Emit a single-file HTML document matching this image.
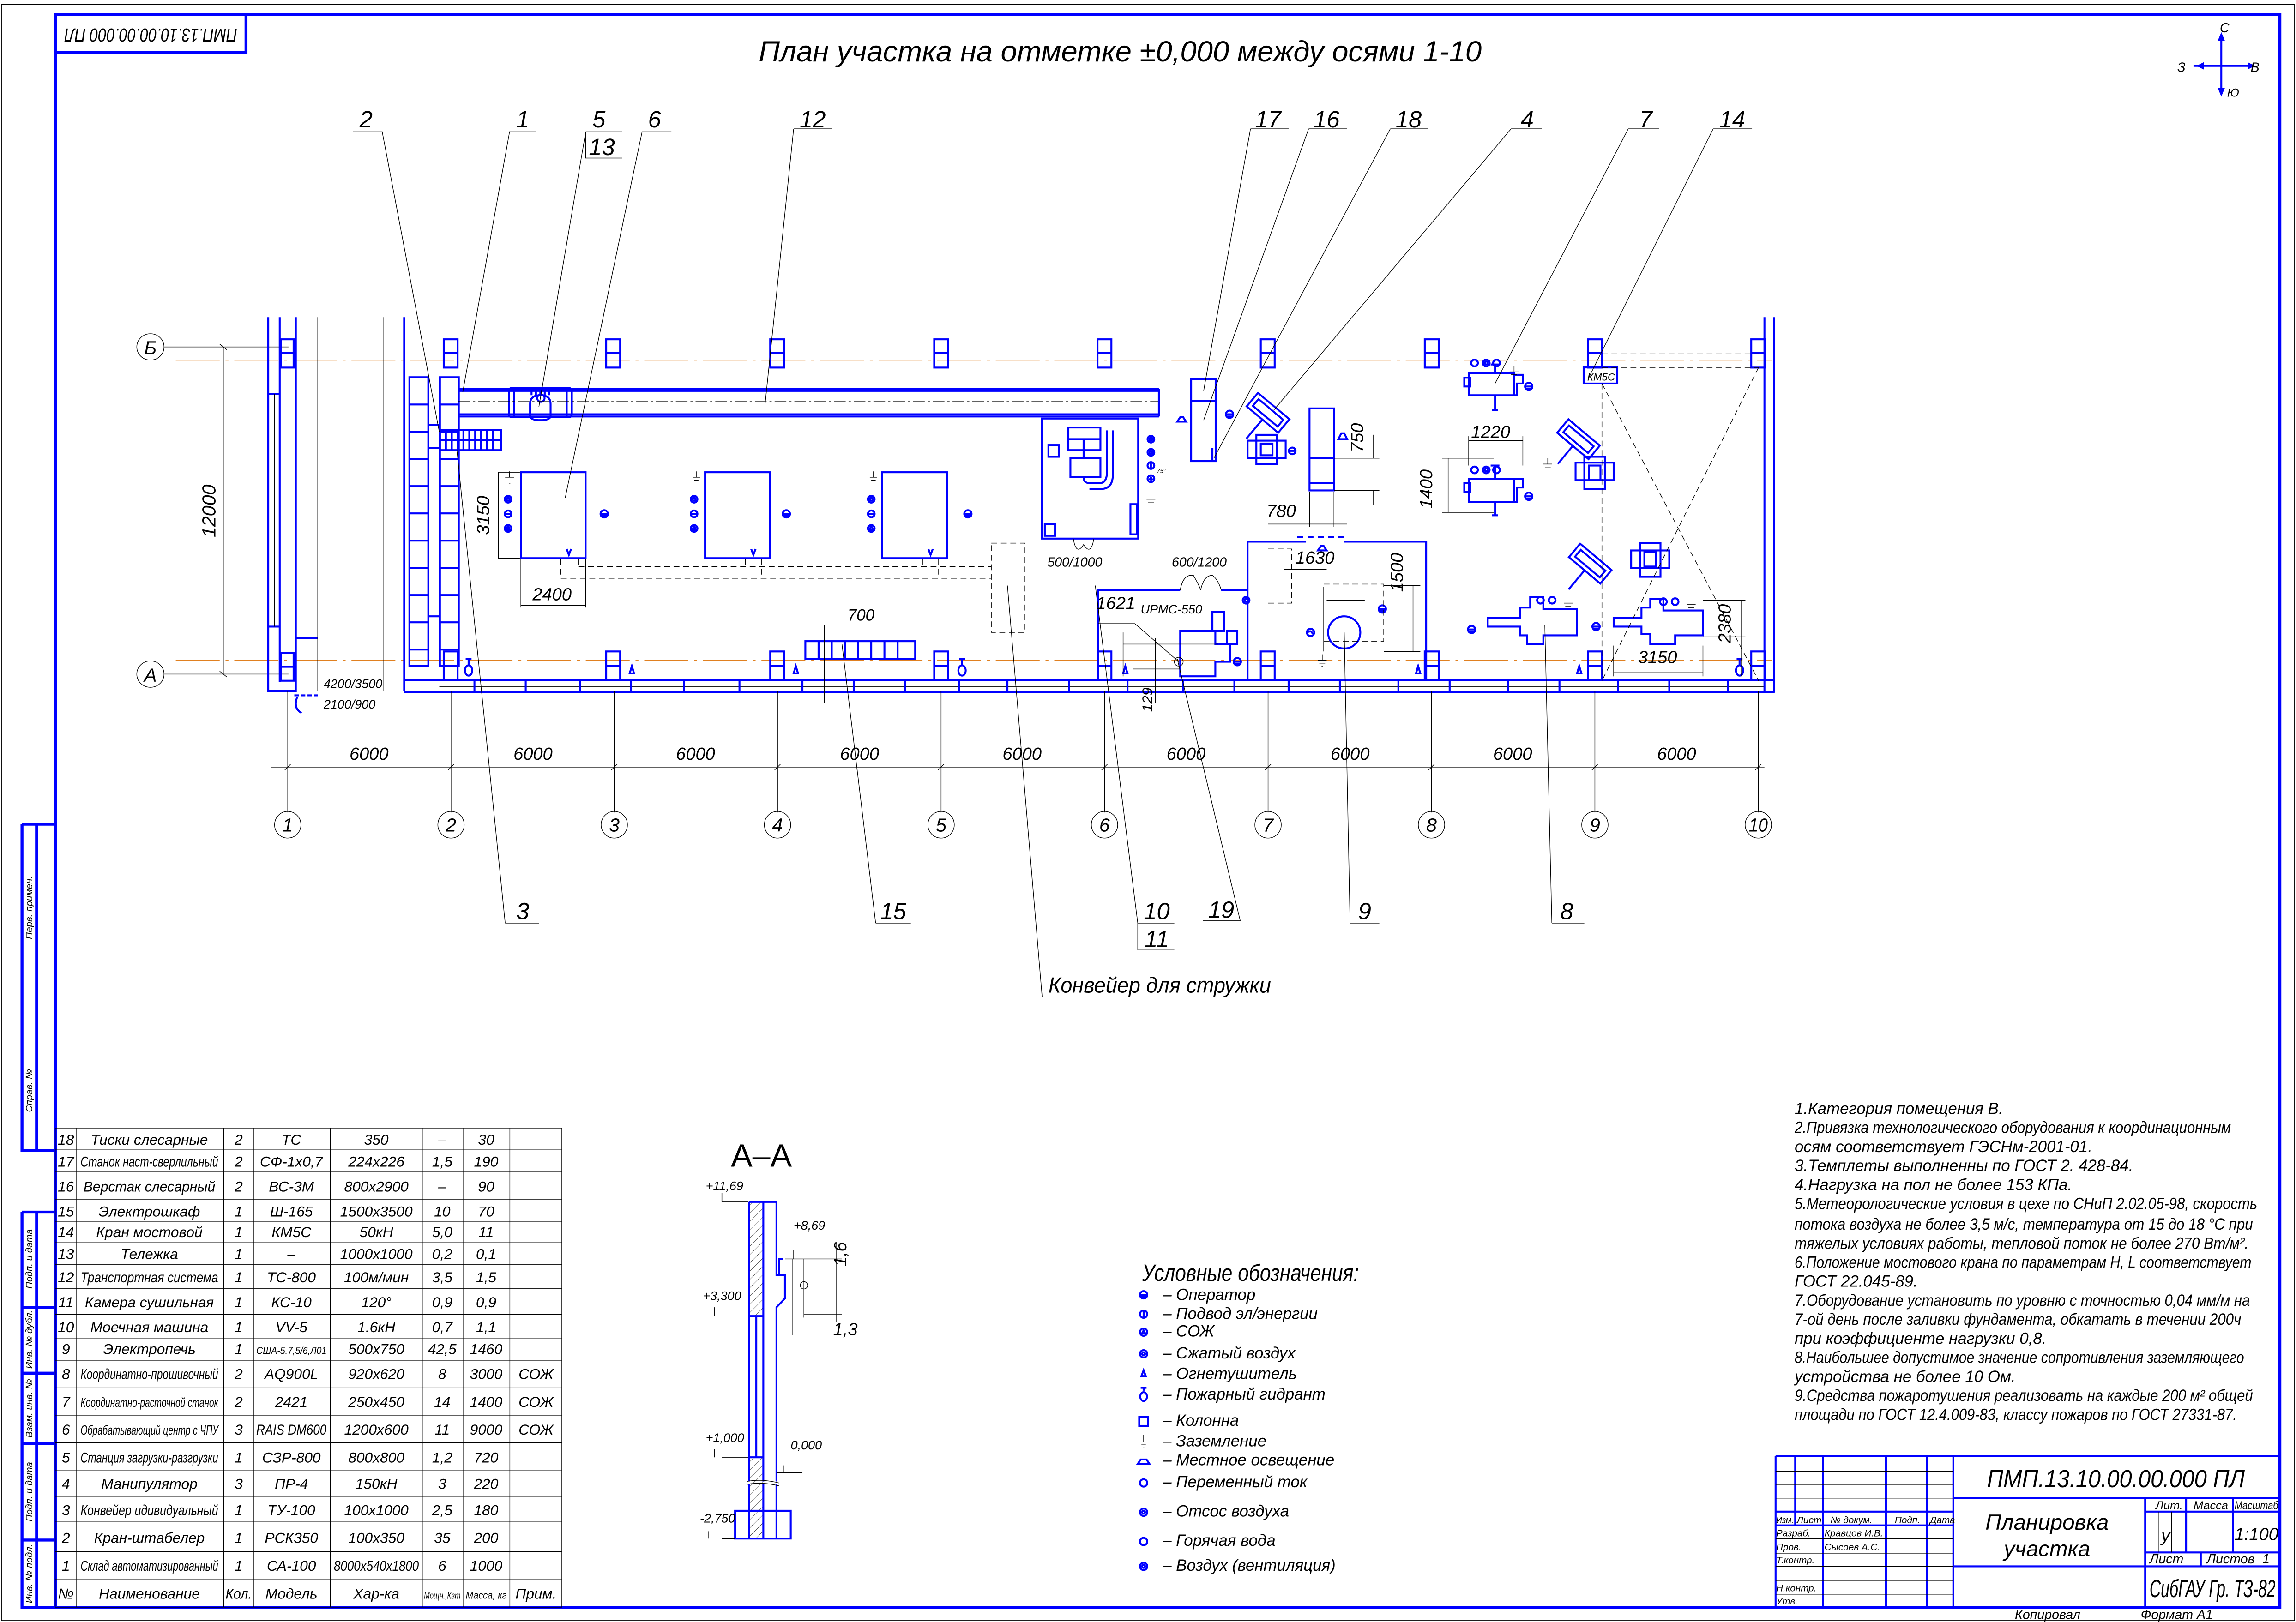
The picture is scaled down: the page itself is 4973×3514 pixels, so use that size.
<!DOCTYPE html>
<html><head><meta charset="utf-8">
<style>
html,body{margin:0;padding:0;background:#fff;}
svg{display:block;}
text{font-family:"Liberation Sans Narrow","Liberation Sans",sans-serif;font-style:italic;fill:#000;}
.b{stroke:#0000ff;stroke-width:1.3;fill:none;}
.bt{stroke:#0000ff;stroke-width:2;fill:none;}
.bf{fill:#0000ff;stroke:none;}
.k{stroke:#000;stroke-width:0.45;fill:none;}
.kd{stroke:#000;stroke-width:0.45;fill:none;stroke-dasharray:4 2.5;}
.ks{stroke:#000;stroke-width:0.4;fill:none;stroke-dasharray:8 2 1.5 2;}
.o{stroke:#e08020;stroke-width:0.7;fill:none;stroke-dasharray:30 4 2 4;}
.t{font-size:11px;}
.n{font-size:16px;}
</style></head>
<body>
<svg width="4973" height="3514" viewBox="0 0 1568 1108" xmlns="http://www.w3.org/2000/svg">
<rect x="0" y="0" width="1568" height="1108" fill="#fff"/>
<rect x="1" y="3" width="1566" height="1104" class="k"/>
<!-- frame -->
<rect x="38" y="10" width="1519" height="1088" class="bt"/>
<rect x="38" y="10" width="130" height="26" class="bt"/>
<text x="103" y="23" font-size="13" text-anchor="middle" transform="rotate(180 103 23)" dominant-baseline="middle" textLength="118" lengthAdjust="spacingAndGlyphs">ПМП.13.10.00.00.000 ПЛ</text>
<!-- left strip -->
<path class="bt" d="M15,563 V786 H38 M25,563 V786 M15,563 H38"/>
<path class="bt" d="M15,828 V1098 H38 M25,828 V1098 M15,828 H38 M15,893 H38 M15,938 H38 M15,986 H38 M15,1052 H38"/>
<g font-size="6.5" text-anchor="middle">
<text x="22" y="620" transform="rotate(-90 22 620)">Перв. примен.</text>
<text x="22" y="745" transform="rotate(-90 22 745)">Справ. №</text>
<text x="22" y="860" transform="rotate(-90 22 860)">Подп. и дата</text>
<text x="22" y="915" transform="rotate(-90 22 915)">Инв. № дубл.</text>
<text x="22" y="962" transform="rotate(-90 22 962)">Взам. инв. №</text>
<text x="22" y="1019" transform="rotate(-90 22 1019)">Подп. и дата</text>
<text x="22" y="1075" transform="rotate(-90 22 1075)">Инв. № подл.</text>
</g>

<!-- title -->
<text x="765" y="42" font-size="20" text-anchor="middle">План участка на отметке ±0,000 между осями 1-10</text>
<!-- compass -->
<path class="b" d="M1517,26 V62 M1498,45 H1536"/>
<path class="bf" d="M1517,22 l-2.5,6 h5z M1517,66 l-2.5,-6 h5z M1500,45 l5,-2.5 v5z M1540,45 l-5,-2.5 v5z"/>
<text x="1516" y="22" font-size="9">С</text><text x="1521" y="66" font-size="8">Ю</text>
<text x="1487" y="49" font-size="9">З</text><text x="1537" y="49" font-size="9">В</text>

<!-- axis lines -->
<line x1="120" y1="246" x2="1210" y2="246" class="o"/>
<line x1="120" y1="451" x2="1210" y2="451" class="o"/>
<!-- left dims -->
<ellipse cx="102.7" cy="237" rx="9.3" ry="9" class="k"/><text x="102.7" y="242" font-size="13" text-anchor="middle">Б</text>
<ellipse cx="102.7" cy="460.5" rx="9.3" ry="9" class="k"/><text x="102.7" y="465.5" font-size="13" text-anchor="middle">А</text>
<path class="k" d="M112,237 H197 M112,460.5 H197 M152.5,237 V460.5 M150,235 l5,4 M150,458.5 l5,4"/>
<text x="147" y="349" font-size="13" text-anchor="middle" transform="rotate(-90 147 349)">12000</text>

<!-- building walls -->
<path class="b" d="M183.2,216.7 V472 H202 V216.7 M191,216.7 V466 M183.2,269.2 H191 M183.2,428 H191 M202,435.8 H217"/>
<path class="k" d="M187.5,269.2 V428 M217,216.7 V472 M261.6,216.7 V472"/>
<path class="b" d="M276,216.7 V472"/>
<path class="b" d="M276,464.7 H1212 M276,472.7 H1212"/>
<path class="k" d="M300,468.9 H1205"/>
<path class="b" d="M1205,216.7 V472.7 M1211.7,216.7 V472.7"/>
<g class="b">
<path d="M324,464.7 V472.7 M359,464.7 V472.7 M396,464.7 V472.7 M431,464.7 V472.7 M467,464.7 V472.7 M505,464.7 V472.7 M548,464.7 V472.7 M583,464.7 V472.7 M618,464.7 V472.7 M655,464.7 V472.7 M688,464.7 V472.7 M730,464.7 V472.7 M770,464.7 V472.7 M808,464.7 V472.7 M843,464.7 V472.7 M880,464.7 V472.7 M915,464.7 V472.7 M955,464.7 V472.7 M990,464.7 V472.7 M1030,464.7 V472.7 M1065,464.7 V472.7 M1105,464.7 V472.7 M1140,464.7 V472.7 M1180,464.7 V472.7"/>
</g>
<path class="b" d="M201,475 H217" stroke-dasharray="3 1.5"/>
<path class="b" d="M203,476 Q200,484 206,487"/>
<text x="221" y="470" font-size="8.5">4200/3500</text>
<text x="221" y="484" font-size="8.5">2100/900</text>

<!-- columns -->
<g class="b">
<rect x="191.7" y="231.8" width="8.8" height="19.3"/><path d="M191.7,241 H200.5"/>
<rect x="191.7" y="446" width="8.8" height="19"/><path d="M191.7,455.5 H200.5"/>
<rect x="303" y="231.8" width="9.5" height="19.3"/><path d="M303,241 H312.5"/>
<rect x="414" y="231.8" width="9.5" height="19.3"/><path d="M414,241 H423.5"/>
<rect x="526" y="231.8" width="9.5" height="19.3"/><path d="M526,241 H535.5"/>
<rect x="638" y="231.8" width="9.5" height="19.3"/><path d="M638,241 H647.5"/>
<rect x="749.5" y="231.8" width="9.5" height="19.3"/><path d="M749.5,241 H759"/>
<rect x="861" y="231.8" width="9.5" height="19.3"/><path d="M861,241 H870.5"/>
<rect x="973" y="231.8" width="9.5" height="19.3"/><path d="M973,241 H982.5"/>
<rect x="1084.5" y="231.8" width="9.5" height="19.3"/><path d="M1084.5,241 H1094"/>
<rect x="1196" y="231.8" width="9.5" height="19.3"/><path d="M1196,241 H1205.5"/>
<rect x="303" y="445" width="9.5" height="19.7"/><path d="M303,455 H312.5"/>
<rect x="414" y="445" width="9.5" height="19.7"/><path d="M414,455 H423.5"/>
<rect x="526" y="445" width="9.5" height="19.7"/><path d="M526,455 H535.5"/>
<rect x="638" y="445" width="9.5" height="19.7"/><path d="M638,455 H647.5"/>
<rect x="749.5" y="445" width="9.5" height="19.7"/><path d="M749.5,455 H759"/>
<rect x="861" y="445" width="9.5" height="19.7"/><path d="M861,455 H870.5"/>
<rect x="973" y="445" width="9.5" height="19.7"/><path d="M973,455 H982.5"/>
<rect x="1084.5" y="445" width="9.5" height="19.7"/><path d="M1084.5,455 H1094"/>
<rect x="1196" y="445" width="9.5" height="19.7"/><path d="M1196,455 H1205.5"/>
</g>
<g class="b">
<path d="M318,450 H322 M320,450 V454"/><ellipse cx="320" cy="458" rx="2.5" ry="3.5"/>
<path d="M655,450 H659 M657,450 V454"/><ellipse cx="657" cy="458" rx="2.5" ry="3.5"/>
<path d="M1186,450 H1190 M1188,450 V454"/><ellipse cx="1188" cy="458" rx="2.5" ry="3.5"/>
<path d="M430,460 l1.5,-5 l1.5,5z M542,460 l1.5,-5 l1.5,5z M767,460 l1.5,-5 l1.5,5z M967,460 l1.5,-5 l1.5,5z M1077,460 l1.5,-5 l1.5,5z"/>
</g>

<!-- stacker 1,2 -->
<g class="b">
<rect x="279.6" y="257.7" width="12.9" height="197"/>
<rect x="300.4" y="257.7" width="12.9" height="197"/>
<path d="M279.6,276.3 H292.5 M279.6,294.9 H292.5 M279.6,313.5 H292.5 M279.6,332.1 H292.5 M279.6,350.7 H292.5 M279.6,369.3 H292.5 M279.6,387.9 H292.5 M279.6,406.5 H292.5 M279.6,425.1 H292.5 M279.6,443.7 H292.5"/>
<path d="M300.4,276.3 H313.3 M300.4,294.9 H313.3 M300.4,313.5 H313.3 M300.4,332.1 H313.3 M300.4,350.7 H313.3 M300.4,369.3 H313.3 M300.4,387.9 H313.3 M300.4,406.5 H313.3 M300.4,425.1 H313.3 M300.4,443.7 H313.3"/>
<path d="M292.5,290.4 H300.4 M292.5,306 H300.4 M292.5,421 H300.4"/>
<rect x="300.4" y="293.7" width="41.9" height="13.8"/>
<path d="M304.5,293.7 V307.5 M308.5,293.7 V307.5 M312.5,293.7 V307.5 M316.5,293.7 V307.5 M320.5,293.7 V307.5 M324.5,293.7 V307.5 M328.5,293.7 V307.5 M332.5,293.7 V307.5 M336.5,293.7 V307.5 M300.4,300.5 H342.3"/>
</g>
<!-- conveyor 12 -->
<g class="b">
<path d="M313.3,265.5 H791.4 M313.3,267 H791.4 M313.3,283 H791.4 M313.3,284.5 H791.4 M791.4,265.5 V284.5"/>
<rect x="347.5" y="265" width="43" height="20" rx="2"/>
<path d="M351,265 V285 M387,265 V285"/>
<path d="M362,276 Q362,270 369,270 Q376,270 376,276 V284 Q376,287 369,287 Q362,287 362,284 Z"/>
<circle cx="369.4" cy="272" r="2.5"/>
<path d="M363,265.5 V270 M366,265.5 V270 M369,265.5 V270 M372,265.5 V270 M375,265.5 V270"/>
</g>
<line x1="313" y1="274" x2="791" y2="274" class="ks"/>

<!-- machines 6 -->
<g class="b">
<rect x="355.7" y="322.6" width="44.2" height="58.7"/>
<rect x="481.5" y="322.6" width="44.2" height="58.7"/>
<rect x="602.5" y="322.6" width="44.2" height="58.7"/>
<path d="M387,375 l1.5,4 l1.5,-4 M513,375 l1.5,4 l1.5,-4 M634,375 l1.5,4 l1.5,-4"/>
<circle cx="347" cy="341" r="2.3"/><circle cx="347" cy="341" r="1"/>
<circle cx="347" cy="351" r="2.3"/><path d="M344.7,351 H349.3"/>
<circle cx="347" cy="361" r="2.3"/><path d="M345.5,362 l1.5,-2.5 l1.5,2.5z"/>
<circle cx="474" cy="341" r="2.3"/><circle cx="474" cy="341" r="1"/>
<circle cx="474" cy="351" r="2.3"/><path d="M471.7,351 H476.3"/>
<circle cx="474" cy="361" r="2.3"/><path d="M472.5,362 l1.5,-2.5 l1.5,2.5z"/>
<circle cx="595" cy="341" r="2.3"/><circle cx="595" cy="341" r="1"/>
<circle cx="595" cy="351" r="2.3"/><path d="M592.7,351 H597.3"/>
<circle cx="595" cy="361" r="2.3"/><path d="M593.5,362 l1.5,-2.5 l1.5,2.5z"/>
<circle cx="412.6" cy="351" r="2.5"/><path d="M410.5,351 H414.7 M410.5,352.5 H414.7"/>
<circle cx="537" cy="351" r="2.5"/><path d="M535,351 H539 M535,352.5 H539"/>
<circle cx="661" cy="351" r="2.5"/><path d="M659,351 H663 M659,352.5 H663"/>
</g>
<path class="k" d="M345,326 H351 M346,328.5 H350 M347.5,330.5 H348.5 M348,322 V326 M473,326 H478 M474,328 H477 M475.5,322 V326 M594,326 H599 M595,328 H598 M596.5,322 V326"/>
<path class="k" d="M340,322.6 H355 M340,381.3 H355 M340.3,322.6 V381.3 M355.7,382 V415 M399.9,382 V415 M355.7,413.5 H399.9"/>
<text x="334" y="352" font-size="12" text-anchor="middle" transform="rotate(-90 334 352)">3150</text>
<text x="377" y="410" font-size="12" text-anchor="middle">2400</text>
<path class="kd" d="M383,382 V395 M395,382 V387 M383,395 H677 M395,387 H677 M509,382 V387 M520,382 V395 M630,382 V387 M641,382 V395"/>
<rect x="677" y="371" width="23" height="61" class="kd"/>
<g class="b">
<rect x="550" y="438" width="75" height="12"/>
<path d="M559,438 V450 M568,438 V450 M577,438 V450 M586,438 V450 M595,438 V450 M604,438 V450 M613,438 V450"/>
</g>
<path class="k" d="M563,427 H588 M563,427 V480"/>
<text x="588" y="424" font-size="11" text-anchor="middle">700</text>

<!-- wash machine 10 -->
<g class="b">
<rect x="711.4" y="285.9" width="65.9" height="82"/>
<rect x="729.6" y="292" width="21.9" height="15.5"/>
<path d="M729.6,300 H751.5 M740,300 V307.5"/>
<rect x="731" y="313" width="20.5" height="13"/>
<path d="M740,307.5 V313 M756,294 V322 Q756,330 751,330 H744 Q740,330 740,326 M760,294 V324 Q760,334 752,334 H744"/>
<rect x="716" y="304" width="7" height="8"/>
<rect x="772" y="344.4" width="4.5" height="20.6"/>
<rect x="713.5" y="358" width="7" height="8"/>
<circle cx="786" cy="300" r="2.3"/><circle cx="786" cy="300" r="1"/>
<circle cx="786" cy="309" r="2.3"/><circle cx="786" cy="309" r="1"/>
<circle cx="786" cy="318" r="2.3"/><path d="M786,316 V320"/>
<circle cx="786" cy="327" r="2.3"/><path d="M785,328 l1,-2 l1,2"/>
</g>
<path class="k" d="M786,336 V341 M783,341 H789 M784,343 H788 M785.5,345 H786.5"/>
<text x="790" y="323" font-size="4">75°</text>
<path class="k" d="M733,368 Q735,380 740,372 Q745,380 747,368"/>
<text x="734" y="387" font-size="9" text-anchor="middle">500/1000</text>
<g class="b">
<rect x="813.5" y="259" width="16.7" height="56"/>
<path d="M813.5,274 H830.2 M828,306 V315"/>
<path d="M804,288 l2,-3 h2 l2,3 z M804,288 H810"/>
<circle cx="839.7" cy="283" r="2.5"/><path d="M837.5,283 H842 M837.5,284.5 H842"/>
</g>
<g class="b" transform="rotate(40 866 282)">
<rect x="852" y="276" width="28" height="12"/><rect x="855" y="279" width="22" height="6"/>
<path d="M866,288 V305"/>
</g>
<g class="b">
<rect x="852" y="301" width="26" height="12"/><rect x="858" y="297" width="14" height="20"/><rect x="861" y="303" width="8" height="8"/>
<circle cx="882.5" cy="308" r="2.3"/><path d="M880.5,308 H884.5"/>
<rect x="894.3" y="279" width="16.7" height="56"/>
<path d="M894.3,313 H911 M894.3,330 H911"/>
<path d="M914,300 l2,-4 h2 l2,4z M914,300 H920"/>
</g>
<path class="k" d="M911,313 H942 M911,335 H942 M938,297 V313 M938,335 V345 M894.3,336 V360 M911,336 V360 M866,358 H920"/>
<text x="931" y="299" font-size="12" text-anchor="middle" transform="rotate(-90 931 299)">750</text>
<text x="875" y="353" font-size="12" text-anchor="middle">780</text>

<!-- room 7 -->
<g class="b">
<path d="M852,465 V370 H892 M918,370 H974 V465"/>
<path d="M886,367 H890 M893,367 H897 M900,367 H904 M907,367 H911 M914,367 H918"/>
<circle cx="918" cy="432" r="11"/>
<path d="M900,376 l2,-3 h2 l2,3 z M900,376 H906"/>
<circle cx="944" cy="416" r="2.5"/><path d="M942,416 H946 M942,417.5 H946"/>
<circle cx="895" cy="432" r="2.5"/><path d="M893.5,432 Q895,430 896.5,433"/>
</g>
<path class="kd" d="M866,375 H882 V412 H866"/>
<path class="kd" d="M904,399 H945 V438 M904,438 H945"/>
<path class="k" d="M904,401 V445 M945,400 H970 M945,445 H970 M965,400 V445 M906,410 H932 M877,389 H906"/>
<path class="k" d="M900,451 H906 M901,453 H905 M902.5,455 H903.5 M903,447 V451"/>
<text x="898" y="385" font-size="12" text-anchor="middle">1630</text>
<text x="958" y="391" font-size="12" text-anchor="middle" transform="rotate(-90 958 391)">1500</text>
<g class="b">
<path d="M750,465 V403 H806 M834,403 H852"/>
<rect x="828" y="418" width="8" height="13"/>
<rect x="838" y="431" width="7" height="9"/>
<path d="M806,431 H830 V440 H840 V452 H830 V462 H806 Z"/>
<circle cx="845" cy="452" r="2.5"/><path d="M843,452 H847 M843,453.5 H847"/>
<circle cx="851" cy="410" r="2.3"/><circle cx="851" cy="410" r="1"/>
</g>
<path class="k" d="M806,403 Q808,392 815,393 Q819,400 820,403 M820,403 Q822,393 828,393 Q832,396 834,403"/>
<text x="819" y="387" font-size="9" text-anchor="middle">600/1200</text>
<text x="762" y="416" font-size="12" text-anchor="middle">1621</text>
<text x="800" y="419" font-size="8.5" text-anchor="middle">UPMC-550</text>
<path class="k" d="M750,426 H775 L805,452 M767,440 H832 M767,432 V462 M789,436 V480 M774,457 H806"/>
<circle cx="805" cy="452" r="3" class="k"/>
<text x="787" y="478" font-size="10" text-anchor="middle" transform="rotate(-90 787 478)">129</text>

<!-- CNC 7 right -->
<g class="b">
<rect x="1003" y="255" width="31" height="15"/><rect x="1000" y="258" width="4" height="6"/>
<path d="M1034,256 H1040 V262 H1036 V270 H1034 M1021,270 V280 M1019,280 H1023 M1021,249 V255 M1018,249 H1024"/>
<circle cx="1007" cy="248" r="2.3"/><circle cx="1015" cy="248" r="2.3"/><circle cx="1015" cy="248" r="1"/><circle cx="1022" cy="248" r="2.3"/>
<circle cx="1044" cy="264" r="2.5"/><path d="M1042,264 H1046 M1042,265.5 H1046"/>
<rect x="1003" y="327" width="31" height="16"/><rect x="1000" y="330" width="4" height="6"/>
<path d="M1034,327 H1040 V333 H1036 V343 H1034 M1021,343 V352 M1019,352 H1023 M1021,318 V327 M1018,318 H1024"/>
<circle cx="1007" cy="321" r="2.3"/><circle cx="1015" cy="321" r="2.3"/><circle cx="1015" cy="321" r="1"/><circle cx="1022" cy="321" r="2.3"/>
<circle cx="1044" cy="339" r="2.5"/><path d="M1042,339 H1046 M1042,340.5 H1046"/>
</g>
<path class="k" d="M1031,254 H1037 M1032,256 H1036 M1034,250 V254 M1054,317 H1060 M1055,319 H1059 M1057,313 V317"/>
<path class="k" d="M1003,301 H1040 M1003,298 V318 M1040,298 V318 M985,313 H1020 M985,350 H1020 M989,313 V350"/>
<text x="1018" y="299" font-size="12" text-anchor="middle">1220</text>
<text x="978" y="334" font-size="12" text-anchor="middle" transform="rotate(-90 978 334)">1400</text>
<g class="b" transform="rotate(40 1078 300)">
<rect x="1064" y="294" width="28" height="12"/><rect x="1067" y="297" width="22" height="6"/>
<path d="M1078,306 V322"/>
</g>
<g class="b">
<rect x="1076" y="316" width="26" height="12"/><rect x="1082" y="312" width="14" height="22"/><rect x="1085" y="318" width="8" height="10"/>
</g>
<g class="b" transform="rotate(40 1086 385)">
<rect x="1072" y="379" width="28" height="12"/><rect x="1075" y="382" width="22" height="6"/>
<path d="M1086,391 V408"/>
</g>
<g class="b">
<rect x="1114" y="376" width="26" height="12"/><rect x="1120" y="371" width="14" height="23"/><rect x="1123" y="377" width="8" height="10"/>
</g>
<g class="b">
<path d="M1016,422 H1038 V415 H1045 V408 H1054 V416 H1077 V434 H1054 V440 H1043 V434 H1038 V428 H1016 Z"/>
<path d="M1102,422 H1121 V415 H1127 V409 H1136 V417 H1163 V434 H1144 V440 H1127 V433 H1121 V428 H1102 Z"/>
<circle cx="1052" cy="410" r="2.3"/><circle cx="1060" cy="410" r="2.3"/>
<circle cx="1136" cy="411" r="2.3"/><circle cx="1144" cy="411" r="2.3"/>
<circle cx="1005" cy="430" r="2.5"/><path d="M1003,430 H1007 M1003,431.5 H1007"/>
<circle cx="1090" cy="428" r="2.5"/><path d="M1088,428 H1092 M1088,429.5 H1092"/>
</g>
<path class="k" d="M1068,412 H1074 M1069,414 H1073 M1152,413 H1158 M1153,415 H1157"/>
<path class="k" d="M1163,435 H1192 M1163,410 H1192 M1189,410 V462 M1102,441 V462 M1163,441 V462 M1102,459 H1163"/>
<text x="1182" y="426" font-size="12" text-anchor="middle" transform="rotate(-90 1182 426)">2380</text>
<text x="1132" y="453" font-size="12" text-anchor="middle">3150</text>
<rect x="1081.5" y="251" width="23" height="11" class="b"/>
<text x="1084" y="260" font-size="7" fill="#0000ff">КМ5С</text>
<path class="kd" d="M1094,262 V465 M1094,241.7 H1201 M1094,251 H1201 M1094,262 L1201,465 M1201,251 L1094,465"/>

<!-- dimension row -->
<path class="k" d="M196.5,472 V555 M308,472 V555 M419.5,472 V555 M531,472 V555 M642.7,472 V555 M754.3,472 V555 M866,472 V555 M977.6,472 V555 M1089.2,472 V555 M1200.8,472 V555"/>
<path class="k" d="M185,524 H1205"/>
<path class="k" d="M194.5,526 l4,-4 M306,526 l4,-4 M417.5,526 l4,-4 M529,526 l4,-4 M640.7,526 l4,-4 M752.3,526 l4,-4 M864,526 l4,-4 M975.6,526 l4,-4 M1087.2,526 l4,-4 M1198.8,526 l4,-4"/>
<g font-size="12" text-anchor="middle">
<text x="252" y="519">6000</text><text x="364" y="519">6000</text><text x="475" y="519">6000</text><text x="587" y="519">6000</text><text x="698" y="519">6000</text><text x="810" y="519">6000</text><text x="922" y="519">6000</text><text x="1033" y="519">6000</text><text x="1145" y="519">6000</text>
</g>
<g class="k">
<ellipse cx="196.5" cy="563.4" rx="9" ry="9.1"/><ellipse cx="308" cy="563.4" rx="9" ry="9.1"/><ellipse cx="419.5" cy="563.4" rx="9" ry="9.1"/><ellipse cx="531" cy="563.4" rx="9" ry="9.1"/><ellipse cx="642.7" cy="563.4" rx="9" ry="9.1"/><ellipse cx="754.3" cy="563.4" rx="9" ry="9.1"/><ellipse cx="866" cy="563.4" rx="9" ry="9.1"/><ellipse cx="977.6" cy="563.4" rx="9" ry="9.1"/><ellipse cx="1089.2" cy="563.4" rx="9" ry="9.1"/><ellipse cx="1200.8" cy="563.4" rx="9" ry="9.1"/>
</g>
<g font-size="13" text-anchor="middle">
<text x="196.5" y="568">1</text><text x="308" y="568">2</text><text x="419.5" y="568">3</text><text x="531" y="568">4</text><text x="642.7" y="568">5</text><text x="754.3" y="568">6</text><text x="866" y="568">7</text><text x="977.6" y="568">8</text><text x="1089.2" y="568">9</text><text x="1200.8" y="568" textLength="13" lengthAdjust="spacingAndGlyphs">10</text>
</g>

<!-- top leaders -->
<g class="n" text-anchor="middle">
<text x="250" y="87">2</text><text x="357" y="87">1</text><text x="409" y="87">5</text><text x="411" y="106">13</text><text x="447" y="87">6</text><text x="555" y="87">12</text>
<text x="866" y="87">17</text><text x="906" y="87">16</text><text x="962" y="87">18</text><text x="1043" y="87">4</text><text x="1124" y="87">7</text><text x="1183" y="87">14</text>
</g>
<path class="k" d="M241,90 H261 L300,295 M348,90 H366 L348,90 L316,268 M400,90 H425 M400,90 V108 H425 M400,90 L368,278 M438.5,90 H458.5 L438.5,90 L386,340 M542,88 H568 M542,88 L522.5,276"/>
<path class="k" d="M854,88 H880 M854,88 L822,267 M893.7,88 H920 M893.7,88 L822,287 M949.5,88 H975 M949.5,88 L829,313 M1032,88 H1053 M1032,88 L870,280 M1112,88 H1133 M1112,88 L1021,262 M1170,88 H1196.6 M1170,88 L1085,258"/>
<g class="n" text-anchor="middle">
<text x="357" y="628">3</text><text x="610" y="628">15</text><text x="790" y="628">10</text><text x="790" y="647">11</text><text x="834" y="627">19</text><text x="932" y="628">9</text><text x="1070" y="628">8</text>
</g>
<text x="716" y="678" font-size="15" textLength="152" lengthAdjust="spacingAndGlyphs">Конвейер для стружки</text>
<path class="k" d="M345,630.6 H368 M345,630.6 L312,307 M598,630.6 H622 M598,630.6 L575,440 M777,630.6 H802 M777,649 H802 M777,630.6 V649 M777,630.6 L748,400 M821.5,629 H847 L804,450 M922,630.6 H942 M922,630.6 L918,432 M1059.8,630.6 H1082 M1059.8,630.6 L1055,427 M711.7,681 H871 M711.7,681 L688,400"/>

<!-- Section A-A -->
<text x="520" y="797" font-size="22" text-anchor="middle" style="font-style:normal">А–А</text>
<defs><pattern id="h" width="4" height="4" patternUnits="userSpaceOnUse" patternTransform="rotate(45)"><line x1="0" y1="0" x2="0" y2="4" stroke="#000" stroke-width="0.4"/></pattern></defs>
<rect x="511.6" y="821" width="9.7" height="78" fill="url(#h)"/>
<rect x="511.6" y="995.5" width="9.7" height="55" fill="url(#h)"/>
<g class="b">
<path d="M511.6,821 H530.3 V871 H536 V887 L530.3,893 V1012 M530.3,1014 V1051 M511.6,821 V1012 M511.6,1014 V1051 M521.3,821 V1012 M521.3,1014 V1051 M511.6,899 H521.3 M511.6,995.5 H521.3 M516.5,899 V995.5"/>
<path d="M502,1032 H540 V1051 H502 Z"/>
<path d="M532,871 V860 H535"/>
</g>
<path class="k" d="M510,1012 Q520,1010 532,1013 M510,1014 Q520,1012 532,1015"/>
<path class="k" d="M493,821 H511 M493,815 V821 M493,899 H511 M488,893 V899 M493,995.5 H511 M488,990 V995.5 M493,1051 H502 M484,1046 V1051 M530.3,1006 H548 M535,1001 V1006 M536,860 H575 M542,854 V860 M541,860 V912 M549,860 V900 M549,898 H575 M571,850 V903 M530.3,903 H580"/>
<circle cx="549" cy="878" r="2.5" class="k"/>
<g font-size="8.5">
<text x="482" y="813">+11,69</text><text x="542" y="840">+8,69</text><text x="480" y="888">+3,300</text><text x="482" y="985">+1,000</text><text x="540" y="990">0,000</text><text x="478" y="1040">-2,750</text>
</g>
<text x="578" y="865" font-size="12" transform="rotate(-90 578 865)">1,6</text>
<text x="569" y="912" font-size="12">1,3</text>

<!-- legend -->
<text x="780" y="875" font-size="16" textLength="148" lengthAdjust="spacingAndGlyphs">Условные обозначения:</text>
<g class="b">
<circle cx="781" cy="884.5" r="2.5"/><path d="M779,884.5 H783 M779,886 H783"/>
<circle cx="781" cy="897.7" r="2.5"/><path d="M781,895.2 V900.2"/>
<circle cx="781" cy="910" r="2.5"/><path d="M779.8,911 l1.2,-2.2 l1.2,2.2z"/>
<circle cx="781" cy="924.8" r="2.5"/><circle cx="781" cy="924.8" r="1"/>
<path d="M779.5,940 l1.5,-4 l1.5,4z"/>
<path d="M779,948 H783 M781,948 V950"/><ellipse cx="781" cy="954" rx="2.3" ry="3"/>
<rect x="778" y="968" width="6" height="6"/>
<path d="M777,1000 l2,-3 h4 l2,3z"/>
<circle cx="781" cy="1013" r="2.5"/>
<circle cx="781" cy="1033" r="2.5"/><circle cx="781" cy="1033" r="1"/>
<circle cx="781" cy="1053" r="2.5"/><circle cx="781" cy="1070" r="2.5"/><circle cx="781" cy="1070" r="1"/>
</g>
<path class="k" d="M778.5,985 H783.5 M779.5,987 H782.5 M780.5,989 H781.5 M781,980 V985"/>
<g font-size="11">
<text x="794" y="888">– Оператор</text>
<text x="794" y="901">– Подвод эл/энергии</text>
<text x="794" y="913">– СОЖ</text>
<text x="794" y="928">– Сжатый воздух</text>
<text x="794" y="942">– Огнетушитель</text>
<text x="794" y="956">– Пожарный гидрант</text>
<text x="794" y="974">– Колонна</text>
<text x="794" y="988">– Заземление</text>
<text x="794" y="1001">– Местное освещение</text>
<text x="794" y="1016">– Переменный ток</text>
<text x="794" y="1036">– Отсос воздуха</text>
<text x="794" y="1056">– Горячая вода</text>
<text x="794" y="1073">– Воздух (вентиляция)</text>
</g>

<!-- notes -->
<g font-size="11">
<text x="1225.6" y="761">1.Категория помещения В.</text>
<text x="1225.6" y="774" textLength="298" lengthAdjust="spacingAndGlyphs">2.Привязка технологического оборудования к координационным</text>
<text x="1225.6" y="787">осям соответствует ГЭСНм-2001-01.</text>
<text x="1225.6" y="800">3.Темплеты выполненны по ГОСТ 2. 428-84.</text>
<text x="1225.6" y="813">4.Нагрузка на пол не более 153 КПа.</text>
<text x="1225.6" y="826" textLength="316" lengthAdjust="spacingAndGlyphs">5.Метеорологические условия в цехе по СНиП 2.02.05-98, скорость</text>
<text x="1225.6" y="840" textLength="313" lengthAdjust="spacingAndGlyphs">потока воздуха не более 3,5 м/с, температура от 15 до 18 °С при</text>
<text x="1225.6" y="853" textLength="310" lengthAdjust="spacingAndGlyphs">тяжелых условиях работы, тепловой поток не более 270 Вт/м².</text>
<text x="1225.6" y="866" textLength="312" lengthAdjust="spacingAndGlyphs">6.Положение мостового крана по параметрам Н, L соответствует</text>
<text x="1225.6" y="879">ГОСТ 22.045-89.</text>
<text x="1225.6" y="892" textLength="311" lengthAdjust="spacingAndGlyphs">7.Оборудование установить по уровню с точностью 0,04 мм/м на</text>
<text x="1225.6" y="905" textLength="305" lengthAdjust="spacingAndGlyphs">7-ой день после заливки фундамента, обкатать в течении 200ч</text>
<text x="1225.6" y="918">при коэффициенте нагрузки 0,8.</text>
<text x="1225.6" y="931" textLength="307" lengthAdjust="spacingAndGlyphs">8.Наибольшее допустимое значение сопротивления заземляющего</text>
<text x="1225.6" y="944">устройства не более 10 Ом.</text>
<text x="1225.6" y="957" textLength="313" lengthAdjust="spacingAndGlyphs">9.Средства пожаротушения реализовать на каждые 200 м² общей</text>
<text x="1225.6" y="970" textLength="302" lengthAdjust="spacingAndGlyphs">площади по ГОСТ 12.4.009-83, классу пожаров по ГОСТ 27331-87.</text>
</g>

<!-- equipment table -->
<g class="k" stroke-width="0.5">
<rect x="37.7" y="770.6" width="346" height="327.3"/>
<path d="M37.7,785.5 H383.7 M37.7,800.6 H383.7 M37.7,819.2 H383.7 M37.7,834.3 H383.7 M37.7,848.9 H383.7 M37.7,863.9 H383.7 M37.7,880.3 H383.7 M37.7,897.9 H383.7 M37.7,914 H383.7 M37.7,929.2 H383.7 M37.7,948 H383.7 M37.7,966.7 H383.7 M37.7,985.5 H383.7 M37.7,1004.2 H383.7 M37.7,1022.6 H383.7 M37.7,1039.2 H383.7 M37.7,1059.9 H383.7 M37.7,1078.6 H383.7"/>
<path d="M52,770.6 V1097.9 M152.8,770.6 V1097.9 M173.4,770.6 V1097.9 M225.6,770.6 V1097.9 M288.4,770.6 V1097.9 M316.6,770.6 V1097.9 M348.2,770.6 V1097.9"/>
</g>
<g font-size="10" text-anchor="middle">
<text x="45" y="782">18</text><text x="102" y="782">Тиски слесарные</text><text x="163" y="782">2</text><text x="199" y="782">ТС</text><text x="257" y="782">350</text><text x="302" y="782">–</text><text x="332" y="782">30</text>
<text x="45" y="797">17</text><text x="102" y="797" textLength="94" lengthAdjust="spacingAndGlyphs">Станок наст-сверлильный</text><text x="163" y="797">2</text><text x="199" y="797">СФ-1х0,7</text><text x="257" y="797">224х226</text><text x="302" y="797">1,5</text><text x="332" y="797">190</text>
<text x="45" y="814">16</text><text x="102" y="814" textLength="90" lengthAdjust="spacingAndGlyphs">Верстак слесарный</text><text x="163" y="814">2</text><text x="199" y="814">ВС-3М</text><text x="257" y="814">800х2900</text><text x="302" y="814">–</text><text x="332" y="814">90</text>
<text x="45" y="831">15</text><text x="102" y="831">Электрошкаф</text><text x="163" y="831">1</text><text x="199" y="831">Ш-165</text><text x="257" y="831">1500х3500</text><text x="302" y="831">10</text><text x="332" y="831">70</text>
<text x="45" y="845">14</text><text x="102" y="845">Кран мостовой</text><text x="163" y="845">1</text><text x="199" y="845">КМ5С</text><text x="257" y="845">50кН</text><text x="302" y="845">5,0</text><text x="332" y="845">11</text>
<text x="45" y="860">13</text><text x="102" y="860">Тележка</text><text x="163" y="860">1</text><text x="199" y="860">–</text><text x="257" y="860">1000х1000</text><text x="302" y="860">0,2</text><text x="332" y="860">0,1</text>
<text x="45" y="876">12</text><text x="102" y="876" textLength="94" lengthAdjust="spacingAndGlyphs">Транспортная система</text><text x="163" y="876">1</text><text x="199" y="876">ТС-800</text><text x="257" y="876">100м/мин</text><text x="302" y="876">3,5</text><text x="332" y="876">1,5</text>
<text x="45" y="893">11</text><text x="102" y="893" textLength="88" lengthAdjust="spacingAndGlyphs">Камера сушильная</text><text x="163" y="893">1</text><text x="199" y="893">КС-10</text><text x="257" y="893">120°</text><text x="302" y="893">0,9</text><text x="332" y="893">0,9</text>
<text x="45" y="910">10</text><text x="102" y="910">Моечная машина</text><text x="163" y="910">1</text><text x="199" y="910">VV-5</text><text x="257" y="910">1.6кН</text><text x="302" y="910">0,7</text><text x="332" y="910">1,1</text>
<text x="45" y="925">9</text><text x="102" y="925">Электропечь</text><text x="163" y="925">1</text><text x="199" y="925" font-size="7" textLength="48" lengthAdjust="spacingAndGlyphs">США-5.7,5/6,Л01</text><text x="257" y="925">500х750</text><text x="302" y="925">42,5</text><text x="332" y="925">1460</text>
<text x="45" y="942">8</text><text x="102" y="942" textLength="94" lengthAdjust="spacingAndGlyphs">Координатно-прошивочный</text><text x="163" y="942">2</text><text x="199" y="942">AQ900L</text><text x="257" y="942">920х620</text><text x="302" y="942">8</text><text x="332" y="942">3000</text><text x="366" y="942">СОЖ</text>
<text x="45" y="961">7</text><text x="102" y="961" textLength="94" lengthAdjust="spacingAndGlyphs" font-size="9">Координатно-расточной станок</text><text x="163" y="961">2</text><text x="199" y="961">2421</text><text x="257" y="961">250х450</text><text x="302" y="961">14</text><text x="332" y="961">1400</text><text x="366" y="961">СОЖ</text>
<text x="45" y="980">6</text><text x="102" y="980" textLength="94" lengthAdjust="spacingAndGlyphs" font-size="9">Обрабатывающий центр с ЧПУ</text><text x="163" y="980">3</text><text x="199" y="980" textLength="48" lengthAdjust="spacingAndGlyphs">RAIS DM600</text><text x="257" y="980">1200х600</text><text x="302" y="980">11</text><text x="332" y="980">9000</text><text x="366" y="980">СОЖ</text>
<text x="45" y="999">5</text><text x="102" y="999" textLength="94" lengthAdjust="spacingAndGlyphs">Станция загрузки-разгрузки</text><text x="163" y="999">1</text><text x="199" y="999">СЗР-800</text><text x="257" y="999">800х800</text><text x="302" y="999">1,2</text><text x="332" y="999">720</text>
<text x="45" y="1017">4</text><text x="102" y="1017">Манипулятор</text><text x="163" y="1017">3</text><text x="199" y="1017">ПР-4</text><text x="257" y="1017">150кН</text><text x="302" y="1017">3</text><text x="332" y="1017">220</text>
<text x="45" y="1035">3</text><text x="102" y="1035" textLength="94" lengthAdjust="spacingAndGlyphs">Конвейер идивидуальный</text><text x="163" y="1035">1</text><text x="199" y="1035">ТУ-100</text><text x="257" y="1035">100х1000</text><text x="302" y="1035">2,5</text><text x="332" y="1035">180</text>
<text x="45" y="1054">2</text><text x="102" y="1054">Кран-штабелер</text><text x="163" y="1054">1</text><text x="199" y="1054">РСК350</text><text x="257" y="1054">100х350</text><text x="302" y="1054">35</text><text x="332" y="1054">200</text>
<text x="45" y="1073">1</text><text x="102" y="1073" textLength="94" lengthAdjust="spacingAndGlyphs">Склад автоматизированный</text><text x="163" y="1073">1</text><text x="199" y="1073">СА-100</text><text x="257" y="1073" textLength="58" lengthAdjust="spacingAndGlyphs">8000х540х1800</text><text x="302" y="1073">6</text><text x="332" y="1073">1000</text>
<text x="45" y="1092">№</text><text x="102" y="1092">Наименование</text><text x="163" y="1092" textLength="18" lengthAdjust="spacingAndGlyphs">Кол.</text><text x="199" y="1092">Модель</text><text x="257" y="1092">Хар-ка</text><text x="302" y="1092" font-size="6.5" textLength="25" lengthAdjust="spacingAndGlyphs">Мощн.,Квт</text><text x="332" y="1092" font-size="7" textLength="28" lengthAdjust="spacingAndGlyphs">Масса, кг</text><text x="366" y="1092">Прим.</text>
</g>

<!-- title block -->
<g class="b">
<path d="M1212.6,994.8 H1557 M1212.6,994.8 V1098"/>
<path d="M1226,994.8 V1042 M1245,994.8 V1098 M1288,994.8 V1098 M1316,994.8 V1098 M1334,994.8 V1098"/>
<path d="M1212.6,1032.6 H1334 M1212.6,1042 H1334 M1334,1023.4 H1557 M1334,1070 H1557 M1465,1023.4 V1098 M1465,1032.6 H1557 M1465,1060.5 H1557 M1493,1023.4 V1060.5 M1525,1023.4 V1060.5 M1503,1060.5 V1070"/>
</g>
<path class="k" d="M1212.6,1005 H1334 M1212.6,1014 H1334 M1212.6,1023.4 H1334 M1212.6,1051 H1334 M1212.6,1061 H1334 M1212.6,1070 H1334 M1212.6,1079.6 H1334 M1212.6,1089 H1334 M1474,1032.6 V1060.5 M1483,1032.6 V1060.5"/>
<g font-size="6.5">
<text x="1213" y="1040.5" textLength="12" lengthAdjust="spacingAndGlyphs">Изм.</text><text x="1227" y="1040.5" textLength="17" lengthAdjust="spacingAndGlyphs">Лист</text><text x="1250" y="1040.5">№ докум.</text><text x="1294" y="1040.5">Подп.</text><text x="1318" y="1040.5">Дата</text>
<text x="1213" y="1049.5">Разраб.</text><text x="1246" y="1049.5" textLength="40" lengthAdjust="spacingAndGlyphs">Кравцов И.В.</text>
<text x="1213" y="1059">Пров.</text><text x="1246" y="1059" textLength="38" lengthAdjust="spacingAndGlyphs">Сысоев А.С.</text>
<text x="1213" y="1068">Т.контр.</text>
<text x="1213" y="1087">Н.контр.</text><text x="1213" y="1096">Утв.</text>
</g>
<g font-size="8">
<text x="1472" y="1031">Лит.</text><text x="1498" y="1031">Масса</text><text x="1526" y="1031" textLength="30" lengthAdjust="spacingAndGlyphs">Масштаб</text>
<text x="1468" y="1068" font-size="9">Лист</text><text x="1507" y="1068" font-size="9">Листов</text><text x="1545" y="1068" font-size="9">1</text>
</g>
<text x="1445" y="1016" font-size="17" text-anchor="middle" textLength="176" lengthAdjust="spacingAndGlyphs">ПМП.13.10.00.00.000 ПЛ</text>
<text x="1398" y="1045" font-size="15" text-anchor="middle">Планировка</text>
<text x="1398" y="1063" font-size="15" text-anchor="middle">участка</text>
<text x="1476" y="1053" font-size="12">у</text>
<text x="1541" y="1052" font-size="12" text-anchor="middle">1:100</text>
<text x="1511" y="1091" font-size="17" text-anchor="middle" textLength="86" lengthAdjust="spacingAndGlyphs">СибГАУ Гр. ТЗ-82</text>
<text x="1376" y="1106" font-size="9">Копировал</text>
<text x="1462" y="1106" font-size="9">Формат    А1</text>
</svg>
</body></html>
